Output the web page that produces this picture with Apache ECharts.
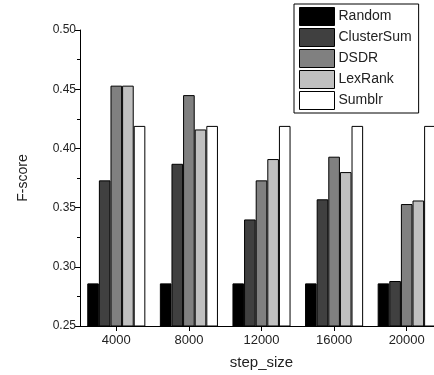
<!DOCTYPE html>
<html>
<head>
<meta charset="utf-8">
<script src="https://cdn.jsdelivr.net/npm/echarts@6/dist/echarts.min.js"></script>
<style>
html,body{margin:0;padding:0;background:#fff;overflow:hidden;}
#chart{width:460px;height:375px;}
</style>
</head>
<body>
<div id="chart"></div>
<script>
var categories = ['4000', '8000', '12000', '16000', '20000'];
var seriesNames = ['Random', 'ClusterSum', 'DSDR', 'LexRank', 'Sumblr'];
var randomVals = [0.286, 0.286, 0.286, 0.286, 0.286];
var clusterSumVals = [0.373, 0.387, 0.340, 0.357, 0.288];
var dsdrVals = [0.453, 0.445, 0.373, 0.393, 0.353];
var lexRankVals = [0.453, 0.416, 0.391, 0.380, 0.356];
var sumblrVals = [0.419, 0.419, 0.419, 0.419, 0.419];
var yTicks = [0.25, 0.30, 0.35, 0.40, 0.45, 0.50];

var colors = ['#000000', '#404040', '#808080', '#c0c0c0', '#ffffff'];
var values = [randomVals, clusterSumVals, dsdrVals, lexRankVals, sumblrVals];

var chart = echarts.init(document.getElementById('chart'), null, {renderer: 'canvas'});
var font = '"Liberation Sans", Arial, sans-serif';

var series = seriesNames.map(function (name, i) {
  return {
    name: name,
    type: 'bar',
    data: values[i],
    barGap: '0%',
    barCategoryGap: '20%',
    itemStyle: {color: colors[i], borderColor: '#000', borderWidth: 1},
    emphasis: {disabled: true},
    animation: false
  };
});

chart.setOption({
  animation: false,
  color: colors,
  grid: {left: 80, top: 30, width: 363, bottom: 47, containLabel: false},
  legend: {
    orient: 'vertical',
    left: 294,
    top: 4,
    padding: [3, 7, 3, 5],
    itemWidth: 35,
    itemHeight: 18,
    itemGap: 2,
    icon: 'rect',
    borderColor: '#000',
    borderWidth: 1,
    backgroundColor: '#fff',
    itemStyle: {borderColor: '#000', borderWidth: 1},
    textStyle: {fontFamily: font, fontSize: 14, color: '#222', padding: [0, 0, 0, -1]},
    data: seriesNames
  },
  xAxis: {
    type: 'category',
    data: categories,
    name: 'step_size',
    nameLocation: 'middle',
    nameGap: 29,
    nameTextStyle: {fontFamily: font, fontSize: 15, color: '#222'},
    axisLine: {show: true, lineStyle: {color: '#000', width: 1}},
    axisTick: {show: true, alignWithLabel: true, length: 5, lineStyle: {color: '#000'}},
    axisLabel: {fontFamily: font, fontSize: 13, color: '#222', margin: 8},
    splitLine: {show: false}
  },
  yAxis: {
    type: 'value',
    min: yTicks[0],
    max: yTicks[yTicks.length - 1],
    interval: 0.05,
    name: 'F-score',
    nameLocation: 'middle',
    nameGap: 50,
    nameTextStyle: {fontFamily: font, fontSize: 14, color: '#222'},
    axisLine: {show: true, lineStyle: {color: '#000', width: 1}},
    axisTick: {show: true, length: 5, lineStyle: {color: '#000'}},
    minorTick: {show: true, splitNumber: 2, length: 3, lineStyle: {color: '#000'}},
    axisLabel: {fontFamily: font, fontSize: 12, color: '#222', margin: 4,
      formatter: function (v) { return v.toFixed(2); }},
    splitLine: {show: false}
  },
  series: series
});
</script>
</body>
</html>
